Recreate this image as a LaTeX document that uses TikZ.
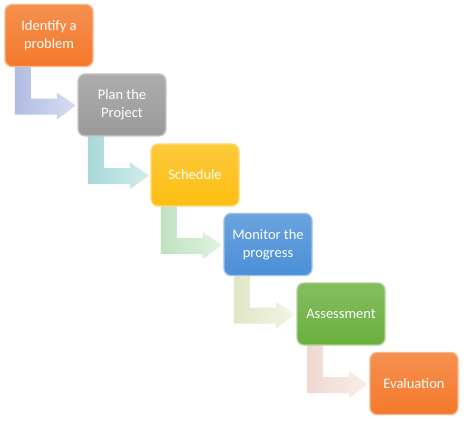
\documentclass[tikz,border=0pt]{standalone}
\usepackage{fontspec}
\setmainfont{Carlito}
\usetikzlibrary{calc}
\definecolor{corange}{HTML}{F4782A}
\definecolor{cgray}{HTML}{9A9A9A}
\definecolor{cyellow}{HTML}{FDBE10}
\definecolor{cblue}{HTML}{4A8FD8}
\definecolor{cgreen}{HTML}{6AAF3D}
\definecolor{aone}{HTML}{B4C0E8}
\definecolor{atwo}{HTML}{ACDEDE}
\definecolor{athree}{HTML}{C4E8C4}
\definecolor{afour}{HTML}{E6EDCC}
\definecolor{afive}{HTML}{F6DED6}
\tikzset{
  stage/.style={rounded corners=7pt, minimum width=88pt, minimum height=62pt,
    align=center, text=white, font=\fontsize{14.5}{18}\selectfont, line width=1.3pt,
    draw=#1!55!white, top color=#1!82!white, bottom color=#1},
  bentarrow/.style={left color=#1!94!gray, right color=#1!55!white, draw=none}
}
\begin{document}
\begin{tikzpicture}[x=1pt,y=-1pt]
\useasboundingbox[fill=white] (0,0) rectangle (474,422);
\coordinate (p1) at (49,35.5);
\coordinate (p2) at (122,105);
\coordinate (p3) at (195,175);
\coordinate (p4) at (268,244.5);
\coordinate (p5) at (341,314);
\coordinate (p6) at (414,383.5);
\foreach \i in {1,...,6} {
  \node[minimum width=88pt, minimum height=62pt, inner sep=0pt] (g\i) at (p\i) {};
}
\foreach \a/\b/\c in {1/2/aone,2/3/atwo,3/4/athree,4/5/afour,5/6/afive} {
  \path[bentarrow=\c]
    ($(g\a.south west)+(10,-1)$) -- ($(g\a.south west)+(26,-1)$)
    -- ($(g\a.south west)+(26,32)$) -- ($(g\a.south west)+(52,32)$)
    -- ($(g\a.south west)+(52,26)$) -- ($(g\b.west)+(-2,0.5)$)
    -- ($(g\a.south west)+(52,53)$) -- ($(g\a.south west)+(52,48)$)
    -- ($(g\a.south west)+(10,48)$) -- cycle;
}
\node[stage=corange] (n1) at (p1) {Identify a\\problem};
\node[stage=cgray] (n2) at (p2) {Plan the\\Project};
\node[stage=cyellow] (n3) at (p3) {Schedule};
\node[stage=cblue] (n4) at (p4) {Monitor the\\progress};
\node[stage=cgreen] (n5) at (p5) {Assessment};
\node[stage=corange] (n6) at (p6) {Evaluation};
\end{tikzpicture}
\end{document}
